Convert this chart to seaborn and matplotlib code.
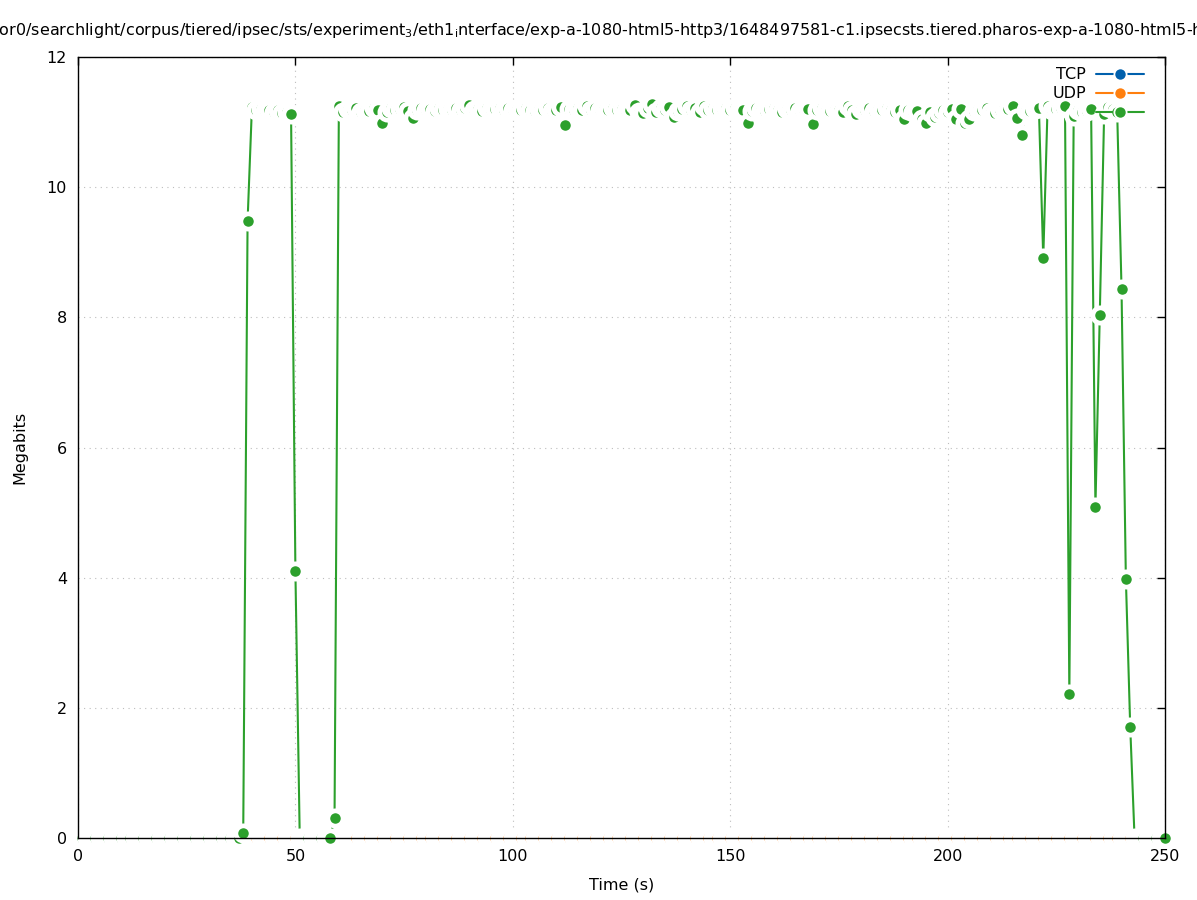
import matplotlib
matplotlib.use("Agg")
import matplotlib.pyplot as plt
from matplotlib.lines import Line2D
import numpy as np
import pandas as pd
import seaborn as sns

# ---------------- data ----------------
times = list(range(0, 251))

green_values = [
    # 0-37
    0, 0, 0, 0, 0, 0, 0, 0, 0, 0, 0, 0, 0, 0, 0, 0, 0, 0, 0, 0,
    0, 0, 0, 0, 0, 0, 0, 0, 0, 0, 0, 0, 0, 0, 0, 0, 0, 0,
    # 38-59
    0.08, 9.48, 11.23, 11.18, 11.20, 11.17, 11.19, 11.15, 11.18, 11.14,
    11.16, 11.13, 4.10, 0, 0, 0, 0, 0, 0, 0, 0, 0.30,
    # 60-79
    11.25, 11.16, 11.20, 11.18, 11.22, 11.15, 11.19, 11.17, 11.21, 11.19,
    10.98, 11.16, 11.21, 11.18, 11.20, 11.23, 11.17, 11.06, 11.19, 11.21,
    # 80-99
    11.18, 11.20, 11.17, 11.21, 11.19, 11.20, 11.18, 11.21, 11.19, 11.22,
    11.26, 11.18, 11.20, 11.17, 11.21, 11.19, 11.20, 11.22, 11.18, 11.21,
    # 100-119
    11.19, 11.20, 11.18, 11.21, 11.19, 11.17, 11.20, 11.18, 11.21, 11.17,
    11.19, 11.23, 10.96, 11.20, 11.18, 11.21, 11.19, 11.24, 11.18, 11.21,
    # 120-139
    11.19, 11.20, 11.18, 11.21, 11.19, 11.20, 11.17, 11.19, 11.26, 11.16,
    11.14, 11.22, 11.28, 11.16, 11.21, 11.19, 11.23, 11.08, 11.17, 11.20,
    # 140-159
    11.25, 11.18, 11.21, 11.15, 11.25, 11.19, 11.21, 11.18, 11.20, 11.22,
    11.19, 11.21, 11.18, 11.19, 10.99, 11.17, 11.21, 11.19, 11.17, 11.20,
    # 160-179
    11.22, 11.18, 11.16, 11.20, 11.19, 11.21, 11.17, 11.19, 11.20, 10.97,
    11.18, 11.21, 11.19, 11.17, 11.20, 11.18, 11.16, 11.25, 11.19, 11.13,
    # 180-199
    11.20, 11.18, 11.21, 11.17, 11.20, 11.19, 11.21, 11.18, 11.16, 11.19,
    11.05, 11.18, 11.15, 11.17, 11.04, 10.99, 11.16, 11.08, 11.14, 11.18,
    # 200-219
    11.16, 11.20, 11.05, 11.20, 10.98, 11.05, 11.17, 11.20, 11.18, 11.21,
    11.16, 11.14, 11.19, 11.22, 11.20, 11.24, 11.06, 10.80, 11.18, 11.17,
    # 220-239
    11.20, 11.21, 8.91, 11.25, 11.18, 11.20, 11.22, 11.24, 2.21, 11.10,
    11.19, 11.15, 11.17, 11.20, 5.09, 8.04, 11.12, 11.23, 11.20, 11.16,
    # 240-250
    8.44, 3.98, 1.71, 0, 0, 0, 0, 0, 0, 0, 0,
]
tcp_values = [0.0] * len(times)
udp_values = [0.0] * len(times)

series_labels = ["TCP", "UDP", ""]
series_colors = ["#0060ad", "#ff7f0e", "#2ca02c"]
x_ticks = [0, 50, 100, 150, 200, 250]
y_ticks = [0, 2, 4, 6, 8, 10, 12]

title_text = (r"/mnt/nor0/searchlight/corpus/tiered/ipsec/sts/experiment$_\mathregular{3}$"
              r"/eth1$_\mathregular{i}$nterface/exp-a-1080-html5-http3/1648497581-c1.ipsecsts"
              r".tiered.pharos-exp-a-1080-html5-http3.pcap")
hidden_prefix = "/mnt/n"

# ---------------- style ----------------
sns.set_theme(style="white")
plt.rcParams["font.family"] = ["DejaVu Sans"]
plt.rcParams["mathtext.fontset"] = "dejavusans"
plt.rcParams["text.color"] = "black"
plt.rcParams["axes.labelcolor"] = "black"
plt.rcParams["xtick.color"] = "black"
plt.rcParams["ytick.color"] = "black"
FS = 11.5

W, H = 1197, 900
fig = plt.figure(figsize=(W / 100, H / 100), dpi=100)
L, R, T, B = 78, 1165, 57, 838
ax = fig.add_axes([L / W, 1 - B / H, (R - L) / W, (B - T) / H])

for vals, col in zip([tcp_values, udp_values, green_values], series_colors):
    d = pd.DataFrame({"t": times, "v": vals})
    sns.lineplot(data=d, x="t", y="v", color=col, marker="o", ms=11, mew=3.4,
                 mec="white", lw=1.5, clip_on=False, ax=ax, estimator=None,
                 sort=False, legend=False)

ax.set_xlim(0, 250)
ax.set_ylim(0, 12)
ax.set_xticks(x_ticks)
ax.set_yticks(y_ticks)
ax.set_axisbelow(True)
ax.grid(True, linestyle=(0, (1, 4)), color="#bdbdbd", lw=0.8)
ax.tick_params(direction="in", length=6, width=1, top=True, right=True,
               labelsize=FS, pad=8, colors="black")
for s in ax.spines.values():
    s.set_visible(True)
    s.set_color("black")
    s.set_linewidth(1)
    s.set_zorder(3)

ax.set_xlabel("Time (s)", fontsize=FS, color="black")
ax.set_ylabel("Megabits", fontsize=FS, color="black")
ax.xaxis.set_label_coords(0.5, (B - 878) / (B - T))
ax.yaxis.set_label_coords((27 - L) / (R - L), 0.5)

handles = [Line2D([], [], color=c, marker="o", ms=8.8, mew=1.3, mec="white", lw=1.5)
           for c in series_colors]
leg = ax.legend(handles, series_labels, loc="upper right", frameon=False,
                markerfirst=False, handlelength=3.0, handletextpad=0.6,
                labelspacing=0.25, borderaxespad=0.0, fontsize=FS,
                bbox_to_anchor=((1150 - L) / (R - L), (B - 61) / (B - T)),
                labelcolor="black")

# title (too long for the canvas, clipped at both sides as in the original)
ttl = fig.text(0, 1 - 30 / H, title_text, ha="left", va="center", fontsize=FS,
               color="black")
renderer = fig.canvas.get_renderer()
tmp = fig.text(0, 0, hidden_prefix, fontsize=FS)
w = tmp.get_window_extent(renderer).width
tmp.remove()
ttl.set_x(-(w + 1) / W)

fig.savefig("out.png", dpi=100)
